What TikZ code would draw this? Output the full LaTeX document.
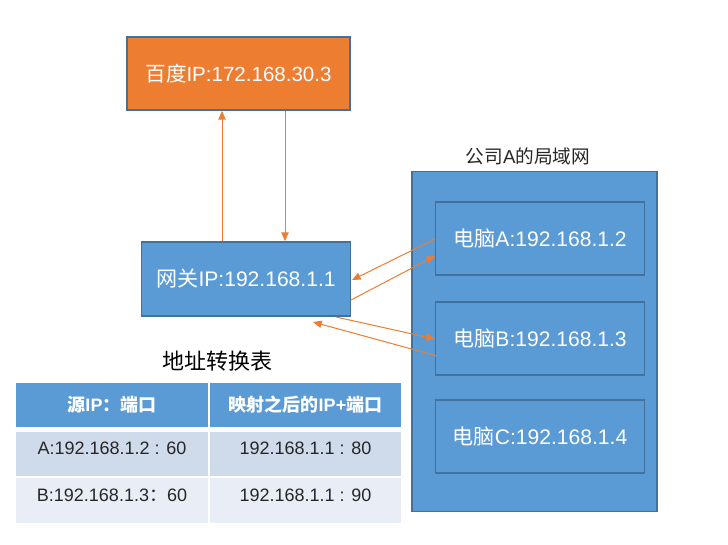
\documentclass[tikz,border=0pt]{standalone}
\usepackage{fontspec}
\setmainfont{Liberation Sans}
\newfontfamily\cjk{Noto Sans CJK SC}
\usetikzlibrary{arrows.meta}
\definecolor{orng}{HTML}{ED7D31}
\definecolor{blu}{HTML}{5B9BD5}
\definecolor{bord}{HTML}{41719C}
\definecolor{rowa}{HTML}{CFDAEB}
\definecolor{rowb}{HTML}{E9EEF6}
\definecolor{txt}{HTML}{262626}
\tikzset{
  box/.style={draw=bord, line width=1.3pt, rectangle, text=white, font=\fontsize{15.8}{18}\selectfont},
  arr/.style={draw=orng, line width=0.75pt, -{Triangle[length=6.5pt,width=5.5pt]}},
  cell/.style={rectangle, inner sep=0pt, anchor=north west},
  hd/.style={text=white, font=\bfseries\fontsize{13.5}{16}\selectfont},
  bd/.style={text=txt, font=\fontsize{13.5}{16}\selectfont},
}
\begin{document}
\begin{tikzpicture}[x=0.75pt,y=-0.75pt]
\useasboundingbox (0,0) rectangle (728,545);
% Baidu
\node[box, fill=orng, minimum width=167.25pt, minimum height=54.75pt, font=\fontsize{15.4}{18}\selectfont] (bd) at (238.5,73.5) {{\cjk 百度}IP:172.168.30.3};
% Gateway
\node[box, fill=blu, minimum width=156.75pt, minimum height=55.5pt] (gw) at (246,279) {{\cjk 网关}IP:192.168.1.1};
% LAN
\node[box, fill=blu, minimum width=183.75pt, minimum height=255pt] (lan) at (534.5,341.5) {};
\node[text=txt, font=\fontsize{14}{16}\selectfont] (lanlbl) at (528,156) {{\cjk 公司}A{\cjk 的局域网}};
\node[box, fill=blu, minimum width=156.75pt, minimum height=54.75pt] (pa) at (540,238.5) {{\cjk 电脑}A:192.168.1.2};
\node[box, fill=blu, minimum width=156.75pt, minimum height=54.75pt] (pb) at (540,338.5) {{\cjk 电脑}B:192.168.1.3};
\node[box, fill=blu, minimum width=156.75pt, minimum height=54.75pt] (pc) at (540,436.5) {{\cjk 电脑}C:192.168.1.4};
% arrows
\draw[arr] (gw.north -| 222,0) -- (bd.south -| 222,0);
\draw[arr] (bd.south -| 285,0) -- (gw.north -| 285,0);
\coordinate (a1) at (435,239);
\coordinate (g1) at (352,280);
\coordinate (g2) at (351,300);
\coordinate (a2) at (435,256);
\coordinate (g3) at (336,317);
\coordinate (b1) at (435,339);
\coordinate (b2) at (437,356);
\coordinate (g4) at (313,322);
\draw[arr] (a1) -- (g1);
\draw[arr] (g2) -- (a2);
\draw[arr] (g3) -- (b1);
\draw[arr] (b2) -- (g4);
% table
\node[text=black, font=\cjk\fontsize{16.5}{19}\selectfont] (ttl) at (217,361) {地址转换表};
\node[cell, fill=blu, minimum width=144pt, minimum height=33pt] (h1) at (16,383) {};
\node[cell, fill=blu, minimum width=143.25pt, minimum height=33pt] (h2) at (210,383) {};
\node[cell, fill=rowa, minimum width=144pt, minimum height=33pt] (r11) at (16,432) {};
\node[cell, fill=rowa, minimum width=143.25pt, minimum height=33pt] (r12) at (210,432) {};
\node[cell, fill=rowb, minimum width=144pt, minimum height=33.75pt] (r21) at (16,478) {};
\node[cell, fill=rowb, minimum width=143.25pt, minimum height=33.75pt] (r22) at (210,478) {};
\node[hd] (t11) at (112,405) {{\cjk\bfseries 源}IP{\cjk\bfseries ：端口}};
\node[hd] (t12) at (305.5,405) {{\cjk\bfseries 映射之后的}IP+{\cjk\bfseries 端口}};
\node[bd] (t21) at (112,448) {A:192.168.1.2 : 60};
\node[bd] (t22) at (305.5,448) {192.168.1.1 : 80};
\node[bd] (t31) at (112,495) {B:192.168.1.3{\cjk ：}60};
\node[bd] (t32) at (305.5,495) {192.168.1.1 : 90};
\end{tikzpicture}
\end{document}
